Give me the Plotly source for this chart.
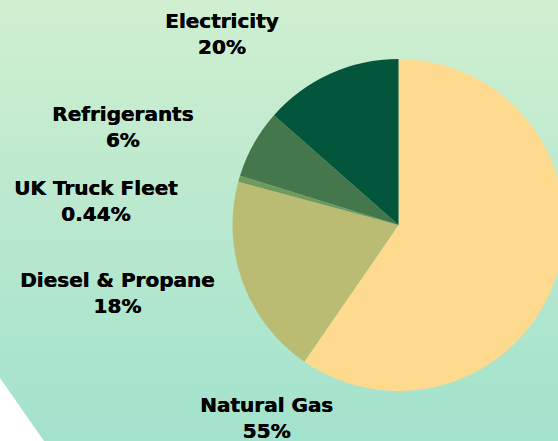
import plotly.graph_objects as go

# ---- data ----
categories = ["Natural Gas", "Diesel & Propane", "UK Truck Fleet", "Refrigerants", "Electricity"]
slice_values = [59.6, 19.6, 0.6, 6.7, 13.5]          # slice sizes as drawn
label_pct = ["55%", "18%", "0.44%", "6%", "20%"]      # percentages printed on the labels
slice_colors = ["#FDDA8E", "#B9BC72", "#6E9B5B", "#44774B", "#03553B"]

# ---- layout constants ----
W, H = 566, 441
cx, cy, r = 398.5, 225, 166
label_pos = {  # pixel centres of the two-line labels
    "Natural Gas": (266, 418),
    "Diesel & Propane": (117, 293),
    "UK Truck Fleet": (96, 201),
    "Refrigerants": (122, 127),
    "Electricity": (222, 34),
}

fig = go.Figure()
fig.add_trace(go.Pie(
    labels=categories,
    values=slice_values,
    sort=False,
    direction="clockwise",
    rotation=0,
    marker=dict(colors=slice_colors, line=dict(width=0)),
    textinfo="none",
    hoverinfo="label",
    showlegend=False,
    domain=dict(x=[(cx - r) / W, (cx + r) / W], y=[(H - cy - r) / H, (H - cy + r) / H]),
))

# background vertical gradient as stripes
top = (0xCF, 0xEF, 0xD0)
bot = (0xA3, 0xE2, 0xCD)
n = 90
shapes = []
for i in range(n):
    t = i / (n - 1)
    c = tuple(round(top[k] + (bot[k] - top[k]) * t) for k in range(3))
    shapes.append(dict(type="rect", xref="paper", yref="paper",
                       x0=0, x1=1, y0=1 - (i + 1) / n - 0.002, y1=1 - i / n,
                       fillcolor="rgb(%d,%d,%d)" % c, line=dict(width=0), layer="below"))
# white corner wedge bottom-left
shapes.append(dict(type="path", xref="paper", yref="paper",
                   path="M 0 %f L %f 0 L 0 0 Z" % ((H - 378) / H, 44 / W),
                   fillcolor="white", line=dict(width=0), layer="below"))

annotations = []
for name, pct in zip(categories, label_pct):
    x, y = label_pos[name]
    annotations.append(dict(
        text=name + "<br>" + pct, x=x / W, y=1 - y / H, xref="paper", yref="paper",
        xanchor="center", yanchor="middle", showarrow=False, align="center",
        font=dict(family="DejaVu Sans", size=20, color="black", weight="bold",
                  shadow="0.5px 0 0 black"),
    ))

fig.update_layout(
    width=W, height=H,
    margin=dict(l=0, r=0, t=0, b=0),
    paper_bgcolor="#B8E8CF", plot_bgcolor="rgba(0,0,0,0)",
    shapes=shapes, annotations=annotations,
)

fig.write_html("out.html", config={"displayModeBar": False},
               post_script="document.body.style.margin='0';document.body.style.overflow='hidden';document.documentElement.style.overflow='hidden';")
